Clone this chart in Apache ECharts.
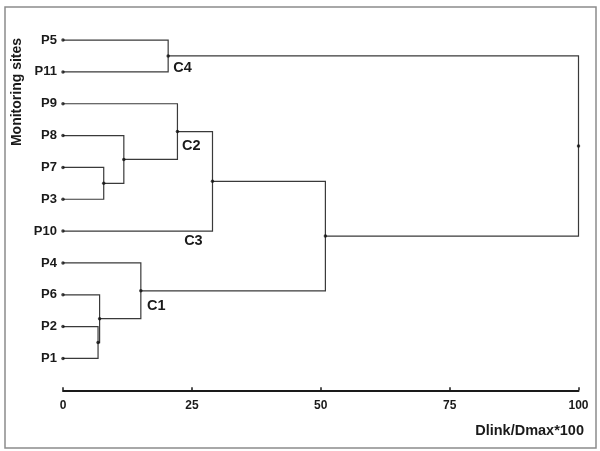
<!DOCTYPE html>
<html>
<head>
<meta charset="utf-8">
<script src="https://cdn.jsdelivr.net/npm/echarts@6/dist/echarts.min.js"></script>
<style>html,body{margin:0;padding:0;background:#fff;}#c{width:600px;height:451px;}</style>
</head>
<body>
<div id="c"></div>
<script>
// Leaf order (top to bottom)
var leaves = ['P5', 'P11', 'P9', 'P8', 'P7', 'P3', 'P10', 'P4', 'P6', 'P2', 'P1'];
// Merges: [childA, childB, linkage distance]; leaves 0..10, new clusters numbered from 11
var mergeA = [9, 8, 4, 3, 7, 0, 2, 17, 18, 16];
var mergeB = [10, 11, 5, 13, 12, 1, 14, 6, 15, 19];
var mergeH = [6.8, 7.1, 7.9, 11.8, 15.1, 20.4, 22.2, 29.0, 50.9, 100];
// Cluster labels
var clusterNames = ['C4', 'C2', 'C3', 'C1'];
var clusterX = [21.4, 23.1, 23.5, 16.3];
var clusterY = [0.88, 3.33, 6.3, 8.34];
// X axis ticks
var xTicks = [0, 25, 50, 75, 100];

var nodeX = [], nodeY = [];
for (var i = 0; i < leaves.length; i++) { nodeX.push(0); nodeY.push(i); }
var links = [];
for (var k = 0; k < mergeH.length; k++) {
  var a = mergeA[k], b = mergeB[k], h = mergeH[k];
  links.push([nodeX[a], nodeY[a], h, nodeX[b], nodeY[b]]);
  nodeX.push(h);
  nodeY.push((nodeY[a] + nodeY[b]) / 2);
}
var dots = [];
for (var j = 0; j < nodeX.length; j++) dots.push([nodeX[j], nodeY[j]]);
var labelData = clusterNames.map(function (n, i) { return [clusterX[i], clusterY[i], n]; });

var FONT = '"Liberation Sans", Arial, sans-serif';
var chart = echarts.init(document.getElementById('c'), null, { renderer: 'canvas' });
chart.setOption({
  animation: false,
  backgroundColor: '#fff',
  grid: { left: 63, right: 21.5, top: 8.2, bottom: 60.7, containLabel: false },
  xAxis: {
    type: 'value', min: xTicks[0], max: xTicks[xTicks.length - 1], interval: 25,
    axisLine: { show: true, onZero: false, lineStyle: { color: '#1a1a1a', width: 2 } },
    axisTick: { show: true, inside: true, length: 3, lineStyle: { color: '#1a1a1a', width: 1.5 } },
    axisLabel: { margin: 9, color: '#1a1a1a', fontFamily: FONT, fontWeight: 'bold', fontSize: 12 },
    splitLine: { show: false }
  },
  yAxis: {
    type: 'value', inverse: true, min: -1, max: leaves.length, interval: 1,
    axisLine: { show: false }, axisTick: { show: false }, splitLine: { show: false },
    axisLabel: {
      margin: 6, color: '#1a1a1a', fontFamily: FONT, fontWeight: 'bold', fontSize: 13,
      formatter: function (v) { return (v >= 0 && v < leaves.length) ? leaves[v] : ''; }
    }
  },
  graphic: [
    { type: 'rect', shape: { x: 5, y: 7, width: 591, height: 441 }, style: { fill: 'none', stroke: '#8c8c8c', lineWidth: 1.5 }, z: 100 },
    { type: 'text', x: 17, y: 92, rotation: Math.PI / 2,
      style: { text: 'Monitoring sites', font: 'bold 14px ' + FONT, fill: '#1a1a1a', align: 'center', verticalAlign: 'middle' } },
    { type: 'text', x: 584, y: 431,
      style: { text: 'Dlink/Dmax*100', font: 'bold 14.5px ' + FONT, fill: '#1a1a1a', align: 'right', verticalAlign: 'middle' } }
  ],
  series: [
    {
      type: 'custom',
      data: links,
      renderItem: function (params, api) {
        var p1 = api.coord([api.value(0), api.value(1)]);
        var p2 = api.coord([api.value(2), api.value(1)]);
        var p3 = api.coord([api.value(2), api.value(4)]);
        var p4 = api.coord([api.value(3), api.value(4)]);
        return {
          type: 'polyline',
          shape: { points: [p1, p2, p3, p4] },
          style: { stroke: '#3a3a3a', lineWidth: 1.2, fill: null }
        };
      },
      encode: { x: [0, 2, 3], y: [1, 4] },
      clip: false
    },
    {
      type: 'scatter', data: dots, symbol: 'circle', symbolSize: 3.5,
      itemStyle: { color: '#111' }, z: 5
    },
    {
      type: 'scatter', data: labelData, symbolSize: 0,
      itemStyle: { color: '#1a1a1a', opacity: 1 },
      label: {
        show: true, position: 'right', distance: 0, opacity: 1,
        formatter: function (p) { return p.data[2]; },
        color: '#1a1a1a', fontFamily: FONT, fontWeight: 'bold', fontSize: 14.5
      }
    }
  ]
});
</script>
</body>
</html>
